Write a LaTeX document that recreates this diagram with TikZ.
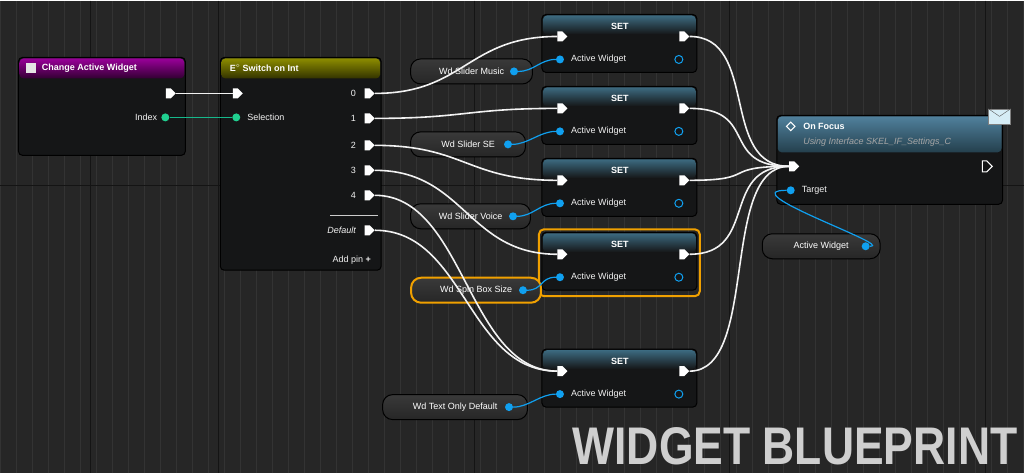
\documentclass[tikz,border=0pt]{standalone}
\usepackage{fontspec}
\setmainfont{Liberation Sans}
\setsansfont{Liberation Sans}
\usetikzlibrary{shapes.symbols,shapes.geometric}
\definecolor{bgc}{HTML}{262626}
\definecolor{gridc}{HTML}{333333}
\definecolor{majorc}{HTML}{141414}
\definecolor{bodyc}{HTML}{151617}
\definecolor{pinblue}{HTML}{10A0F0}
\definecolor{pingreen}{HTML}{20D090}
\definecolor{selc}{HTML}{F0A000}
\definecolor{setc}{HTML}{3C6A80}
\definecolor{focusc}{HTML}{50809C}
\begin{document}
\begin{tikzpicture}[x=1pt,y=-1pt,font=\sffamily\fontsize{9}{10}\selectfont]
\tikzstyle{body} = [draw=black,fill=bodyc,rounded corners=4,line width=1];
\tikzstyle{execpin} = [signal,signal to=east,fill=white,inner sep=0,minimum width=10,minimum height=10];
\tikzstyle{execout} = [signal,signal to=east,draw=white,line width=1,inner sep=0,minimum width=10,minimum height=11];
\tikzstyle{datapin} = [circle,fill=pinblue,inner sep=0,minimum size=8];
\tikzstyle{dataout} = [circle,draw=pinblue,line width=1,inner sep=0,minimum size=8];
\tikzstyle{lbl} = [text=white!90!gray,inner sep=1];
\tikzstyle{head} = [text=white,font=\sffamily\bfseries\fontsize{9}{10}\selectfont];
\tikzstyle{getter} = [draw=black,line width=1,rounded corners=10,top color=gray!45!black,bottom color=black!85,text=white,minimum height=25,inner sep=5];
\tikzstyle{execwire} = [white!90!gray,line width=1.6];
\tikzstyle{datawire} = [pinblue,line width=1.2];
% background
\fill[bgc] (0,0) rectangle (1024,473);
\draw[gridc,line width=0.5] (0,0) grid[step=16] (1024,473);
\draw[majorc,line width=1] (0,185) -- (1024,185);
\foreach \gx in {90,218,474,730,986} \draw[majorc,line width=1] (\gx,0) -- (\gx,473);
\node[anchor=base east,text=gray!38,font=\sffamily\bfseries\fontsize{53}{53}\selectfont,inner sep=0,xscale=0.84] (mark) at (1018,464) {WIDGET BLUEPRINT};
% Change Active Widget
\draw[body] (18,57) rectangle (185,155);
\shade[top color=violet!80!magenta,bottom color=violet!40!black,rounded corners=4] (19,58) rectangle (184,78);
\node[head,anchor=west] (caw) at (38,68) {Change Active Widget};
\fill[white!80!gray] (26,63) rectangle (36,73);
\node[execpin] (cawout) at (168,93) {};
\node[circle,fill=pingreen,inner sep=0,minimum size=8] (index) at (165,117) {};
\node[lbl,anchor=east] (indexlbl) at (158,117) {Index};
% Switch on Int
\draw[body] (220,57) rectangle (381,270);
\shade[top color=olive!90!yellow,bottom color=olive!40!black,rounded corners=4] (221,58) rectangle (380,78);
\node[head,anchor=west] (soi) at (226,68) {$\mathbf{E^\diamond}$\ Switch on Int};
\node[execpin] (swin) at (235,93) {};
\node[circle,fill=pingreen,inner sep=0,minimum size=8] (sel) at (236,117) {};
\node[lbl,anchor=west] (sellbl) at (246,117) {Selection};
\foreach \n/\py in {0/93,1/118,2/145,3/170,4/195}{
  \node[execpin] (out\n) at (367,\py) {};
  \node[lbl,anchor=east] (lbl\n) at (357,\py) {\n};
}
\draw[gray!40,line width=0.5] (330,215) -- (378,215);
\node[execpin] (outd) at (367,230) {};
\node[lbl,anchor=east,font=\sffamily\itshape\fontsize{9}{10}\selectfont] (lbld) at (357,230) {Default};
\node[lbl,anchor=east] (addpin) at (372,260) {Add pin \textbf{+}};
% SET nodes
\foreach \i/\t in {1/14,2/86,3/158,4/232,5/349}{
  \draw[body] (542,\t) rectangle (697,\t+58);
  \shade[top color=setc,bottom color=bodyc,rounded corners=4] (543,\t+1) rectangle (696,\t+20);
  \node[head] (sethead\i) at (620,\t+12) {SET};
  \node[execpin] (setin\i) at (560,\t+22) {};
  \node[execpin] (setout\i) at (682,\t+22) {};
  \node[datapin] (setpin\i) at (560,\t+45) {};
  \node[lbl,anchor=west] (setlbl\i) at (570,\t+45) {Active Widget};
  \node[dataout] (setval\i) at (679,\t+45) {};
}
\draw[selc,line width=2,rounded corners=5] (539,229) rectangle (700,296);
% getters
\node[getter,anchor=west,minimum width=122] (music) at (410,71) {Wd Slider Music\hspace{12pt}};
\node[getter,anchor=west,minimum width=115] (se) at (410,144) {Wd Slider SE\hspace{12pt}};
\node[getter,anchor=west,minimum width=120] (voice) at (410,216) {Wd Slider Voice\hspace{12pt}};
\node[getter,anchor=west,minimum width=130,draw=selc,line width=2] (spin) at (410,290) {Wd Spin Box Size\hspace{12pt}};
\node[getter,anchor=west,minimum width=145] (text) at (382,407) {Wd Text Only Default\hspace{12pt}};
\node[datapin] (musicpin) at (514,71) {};
\node[datapin] (sepin) at (508,144) {};
\node[datapin] (voicepin) at (513,216) {};
\node[datapin] (spinpin) at (523,290) {};
\node[datapin] (textpin) at (509,407) {};
% On Focus
\draw[body] (777,115) rectangle (1003,204);
\shade[top color=focusc,bottom color=setc!60!black,rounded corners=4] (778,116) rectangle (1002,152);
\node[diamond,draw=white,line width=1,inner sep=0,minimum size=9] (dia) at (791,126) {};
\node[head,anchor=west] (focus) at (800,126) {On Focus};
\node[anchor=west,text=gray!70,font=\sffamily\itshape\fontsize{9}{10}\selectfont] (iface) at (800,142) {Using Interface SKEL\_IF\_Settings\_C};
\node[execpin] (focin) at (792,166) {};
\node[execout] (focout) at (985,166) {};
\node[datapin] (target) at (791,190) {};
\node[lbl,anchor=west] (targetlbl) at (801,190) {Target};
\node[fill=gray!30!cyan!20,draw=gray,inner sep=0,minimum width=22,minimum height=15] (mail) at (1000,116) {};
\draw[gray!70!black] (mail.north west) -- (mail.center) -- (mail.north east);
\node[getter,anchor=west,minimum width=118] (aw) at (762,246) {Active Widget\hspace{12pt}};
\node[datapin] (awpin) at (866,246) {};
% connectors
\draw[execwire] (cawout) -- (swin);
\draw[pingreen!70!teal,line width=1.2] (index) -- (sel);
\foreach \a/\b in {out0/setin1,out1/setin2,out2/setin3,out3/setin4,out4/setin5,outd/setin5}
  \draw[execwire] (\a.east) .. controls +(90,0) and +(-90,0) .. (\b.west);
\foreach \i in {1,...,5}
  \draw[execwire] (setout\i.east) .. controls +(70,0) and +(-70,0) .. (focin.west);
\draw[datawire] (musicpin) .. controls +(20,0) and +(-20,0) .. (setpin1);
\draw[datawire] (sepin) .. controls +(20,0) and +(-20,0) .. (setpin2);
\draw[datawire] (voicepin) .. controls +(20,0) and +(-20,0) .. (setpin3);
\draw[datawire] (spinpin) .. controls +(20,0) and +(-20,0) .. (setpin4);
\draw[datawire] (textpin) .. controls +(20,0) and +(-20,0) .. (setpin5);
\draw[datawire] (awpin) .. controls +(30,0) and +(-60,0) .. (target);
\end{tikzpicture}
\end{document}
